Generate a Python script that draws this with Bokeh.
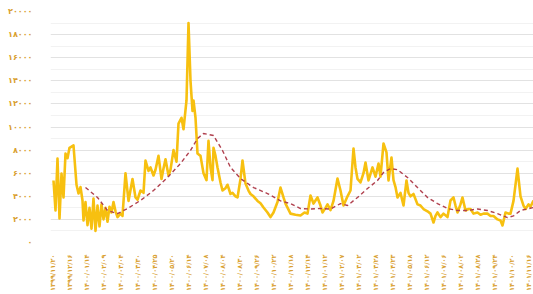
from bokeh.plotting import figure
from bokeh.models import FixedTicker, Range1d
from bokeh.embed import file_html
from bokeh.resources import INLINE

# ---- data ----
price_day = [2, 6, 10, 14, 18, 22, 26, 30, 34, 42, 48, 52, 56, 60, 62, 66, 70, 74, 78, 82,
             86, 90, 94, 98, 102, 106, 110, 114, 118, 122, 126, 130, 136, 140, 146, 152, 160, 166, 170, 176,
             182, 186, 192, 196, 202, 206, 212, 218, 222, 226, 232, 236, 242, 248, 252, 258, 262, 268, 272, 276,
             280, 282, 286, 290, 296, 302, 308, 312, 316, 320, 322, 326, 330, 336, 340, 346, 350, 356, 360, 366,
             370, 376, 380, 386, 392, 396, 402, 410, 416, 422, 430, 436, 442, 450, 456, 462, 466, 476, 486, 496,
             504, 510, 516, 522, 530, 536, 540, 546, 550, 556, 562, 570, 576, 582, 590, 596, 602, 606, 610, 616,
             622, 626, 632, 640, 646, 652, 656, 662, 668, 672, 678, 682, 686, 690, 696, 702, 708, 712, 716, 722,
             730, 736, 742, 750, 756, 762, 766, 770, 776, 782, 790, 796, 802, 806, 810, 816, 820, 826, 832, 836,
             842, 850, 856, 862, 870, 876, 882, 890, 896, 900, 906, 912, 916, 922, 930, 936, 942, 946, 952, 956, 962]
price_val = [5370, 2770, 7270, 2080, 5970, 3900, 7700, 7300, 8200, 8400, 5000, 4240, 4800, 3640, 1900, 3500, 1500, 3000, 1200, 3800,
             1000, 3200, 1400, 3300, 2000, 3000, 1800, 3100, 2600, 3500, 2700, 2200, 2500, 2300, 6000, 3600, 5500, 3900, 3700, 4500,
             4300, 7100, 6200, 6500, 5800, 6300, 7500, 5500, 6400, 7200, 5800, 6300, 8000, 7000, 10300, 10800, 9800, 12300, 19000, 14000,
             11400, 12300, 10800, 7700, 7500, 6000, 5400, 8800, 6500, 5400, 8200, 7500, 6500, 5200, 4500, 4700, 5000, 4200, 4300, 4000,
             3900, 5500, 7100, 5100, 4500, 4200, 4000, 3600, 3400, 3030, 2600, 2200, 2600, 3500, 4760, 3900, 3370, 2500, 2400, 2340,
             2600, 2500, 4070, 3370, 3900, 3200, 2600, 3000, 3300, 2800, 3600, 5540, 4500, 3200, 4000, 4500, 8140, 6500, 5500, 5200,
             6000, 6930, 5370, 6500, 5700, 6840, 5700, 8570, 7800, 5370, 7360, 5400, 4800, 3900, 4300, 3200, 5370, 4300, 4000, 4200,
             3300, 3200, 2900, 2700, 2500, 1730, 2300, 2600, 2200, 2500, 2200, 3640, 3900, 3200, 2600, 3300, 3900, 2770, 2900, 2900,
             2500, 2600, 2400, 2500, 2500, 2300, 2300, 2000, 1900, 1470, 2600, 2500, 2500, 3600, 6400, 4000, 3200, 2900, 3300, 3100, 3640]

ma_day = [66, 90, 110, 130, 150, 176, 202, 230, 256, 276, 290, 302, 322, 340, 356, 376, 402, 430, 456, 476,
          496, 516, 536, 556, 576, 590, 610, 630, 650, 662, 676, 690, 710, 730, 750, 770, 790, 810, 830, 850,
          870, 890, 910, 922, 936, 962]
ma_val = [4760, 3900, 2770, 2500, 2940, 3640, 4500, 5630, 6840, 7970, 9000, 9440, 9260, 7970, 6500, 5540, 4760, 4240, 3600, 3370,
          2940, 2900, 2940, 2900, 3370, 3200, 3900, 4670, 5370, 6060, 6400, 6300, 5630, 4760, 3900, 3370, 2940, 2770, 2770, 2900,
          2770, 2500, 2160, 2300, 2770, 3030]

y_ticks = [0, 2000, 4000, 6000, 8000, 10000, 12000, 14000, 16000, 18000, 20000]
x_tick_days = [0, 34, 68, 102, 136, 170, 204, 238, 272, 306, 340, 374, 408, 442, 476, 510, 544, 578,
               612, 646, 680, 714, 748, 782, 816, 850, 884, 918, 952]
x_tick_labels = ["1399/11/20", "1399/12/16", "1400/01/14", "1400/02/09", "1400/03/04", "1400/03/30",
                 "1400/04/25", "1400/05/20", "1400/06/14", "1400/07/08", "1400/08/04", "1400/08/30",
                 "1400/09/26", "1400/10/22", "1400/11/18", "1400/12/14", "1401/01/12", "1401/02/07",
                 "1401/03/02", "1401/03/28", "1401/04/23", "1401/05/18", "1401/06/12", "1401/07/06",
                 "1401/08/02", "1401/08/28", "1401/09/24", "1401/10/20", "1401/11/16"]

FA = str.maketrans("0123456789", "۰۱۲۳۴۵۶۷۸۹")

p = figure(width=533, height=294, output_backend="svg", toolbar_location=None,
           x_range=Range1d(-4, 962), y_range=Range1d(0, 20000),
           min_border_left=50, min_border_right=0, min_border_top=11, min_border_bottom=52)
p.outline_line_color = None
p.background_fill_color = "white"

p.line(price_day, price_val, line_color="#F7C010", line_width=2.6, line_join="round")
p.line(ma_day, ma_val, line_color="#B0404E", line_width=1.4, line_dash="4 3")

# axes
p.yaxis.ticker = FixedTicker(ticks=y_ticks, minor_ticks=[v + 1000 for v in y_ticks[:-1]])
p.yaxis.major_label_overrides = {v: str(v).translate(FA) for v in y_ticks}
p.xaxis.ticker = FixedTicker(ticks=x_tick_days)
p.xaxis.major_label_overrides = {d: s.translate(FA) for d, s in zip(x_tick_days, x_tick_labels)}
p.xaxis.major_label_orientation = 1.5708

for ax in (p.xaxis, p.yaxis):
    ax.axis_line_color = None
    ax.major_tick_line_color = None
    ax.minor_tick_line_color = None
    ax.major_label_text_color = "#D9A030"
    ax.major_label_text_font = "DejaVu Sans"
    ax.major_label_text_font_style = "bold"
p.yaxis.major_label_text_font_size = "8px"
p.xaxis.major_label_text_font_size = "6.5px"
p.yaxis.major_label_standoff = 12
p.xaxis.major_label_standoff = 6

p.xgrid.grid_line_color = None
p.ygrid.grid_line_color = "#E2E2E2"
p.ygrid.minor_grid_line_color = "#F2F2F2"

open("out.html", "w").write(file_html(p, INLINE))
